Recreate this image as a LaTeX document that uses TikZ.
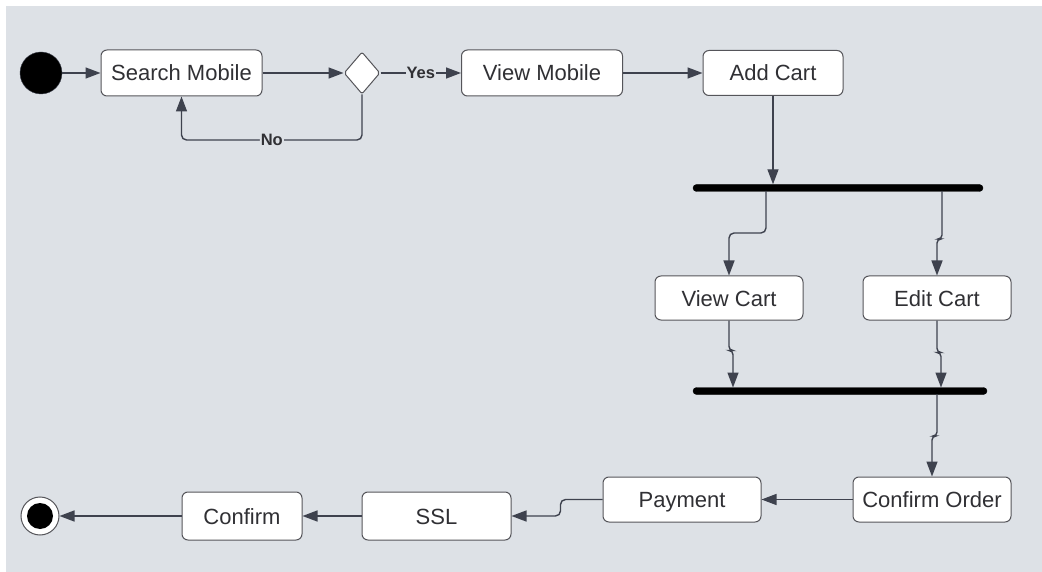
\documentclass[tikz,border=0pt]{standalone}
\usepackage{fontspec}
\setmainfont{Liberation Sans}
\usetikzlibrary{shapes.geometric,arrows.meta}
\definecolor{bgc}{RGB}{221,225,230}
\definecolor{linec}{RGB}{62,66,78}
\definecolor{textc}{RGB}{48,48,52}
\definecolor{boxc}{RGB}{85,85,90}
\tikzset{
  act/.style={draw=boxc, line width=1pt, fill=white, rounded corners=6pt, inner sep=0pt,
    text=textc, font=\fontsize{22}{26}\selectfont, text height=16pt, text depth=0pt},
  arr/.style={draw=linec, line width=1.4pt, -{Triangle[length=15pt,width=11pt]}},
  lbl/.style={fill=bgc, inner sep=1pt, text=textc, font=\bfseries\fontsize{16.5}{18}\selectfont},
  syncbar/.style={fill=black, draw=black, rounded corners=3.5pt, minimum height=7pt, inner sep=0pt},
}
\begin{document}
\begin{tikzpicture}[x=1pt,y=-1pt]
\useasboundingbox (0,0) rectangle (1042,572);
\fill[white] (0,0) rectangle (1042,572);
\fill[bgc] (6,6) rectangle (1042,572);

% nodes
\node[circle, fill=black, draw=linec, minimum size=42pt, inner sep=0pt] (start) at (41,73) {};
\node[act, minimum width=161pt, minimum height=46pt] (search) at (181.5,73) {Search Mobile};
\node[diamond, draw=boxc, fill=white, line width=1pt, minimum width=36pt, minimum height=42pt, inner sep=0pt, rounded corners=2pt] (dec) at (362,73) {};
\node[act, minimum width=161pt, minimum height=46pt] (viewm) at (542,73) {View Mobile};
\node[act, minimum width=140pt, minimum height=45pt] (add) at (773,73) {Add Cart};
\node[syncbar, minimum width=290pt] (bar1) at (838,188) {};
\node[act, minimum width=148pt, minimum height=44pt] (vcart) at (729,298) {View Cart};
\node[act, minimum width=148pt, minimum height=44pt] (ecart) at (937,298) {Edit Cart};
\node[syncbar, minimum width=294pt] (bar2) at (840,391) {};
\node[act, minimum width=158pt, minimum height=45pt] (corder) at (932,499.5) {Confirm Order};
\node[act, minimum width=158pt, minimum height=45pt] (pay) at (682,499.5) {Payment};
\node[act, minimum width=149pt, minimum height=48pt] (ssl) at (436.5,516) {SSL};
\node[act, minimum width=120pt, minimum height=48pt] (confirm) at (242,516) {Confirm};
\node[circle, fill=white, draw=boxc, line width=1pt, minimum size=38pt, inner sep=0pt] (end) at (40,516) {};
\node[circle, fill=black, minimum size=26pt, inner sep=0pt] (endin) at (end.center) {};

% helper coordinates on the bars
\coordinate (noc) at (181.5,140);
\coordinate (b1a) at (766,191);
\coordinate (b1b) at (942,191);
\coordinate (b2a) at (733,387.5);
\coordinate (b2b) at (941,387.5);
\coordinate (b2c) at (937,394);

% connectors
\draw[arr] (start) -- (search);
\draw[arr] (search) -- (dec);
\draw[arr] (dec) -- node[lbl]{Yes} (viewm);
\draw[arr, rounded corners=5pt] (dec.south) |- node[lbl, pos=0.75]{No} (noc) -- (search.south);
\draw[arr] (viewm) -- (add);
\draw[arr] (add.south) -- (add.south |- bar1.north);
\draw[arr, rounded corners=5pt] (b1a) -- ++(0,42) -| (vcart.north);
\draw[arr, rounded corners=4pt] (b1b) -- ++(0,48) -| (ecart.north);
\draw[arr, rounded corners=4pt] (vcart.south) -- ++(0,30) -| (b2a);
\draw[arr, rounded corners=4pt] (ecart.south) -- ++(0,32) -| (b2b);
\draw[arr, rounded corners=4pt] (b2c) -- ++(0,42) -| (corder.north);
\draw[arr] (corder) -- (pay);
\draw[arr, rounded corners=5pt] (pay.west) -- ++(-42,0) |- (ssl.east);
\draw[arr] (ssl) -- (confirm);
\draw[arr] (confirm) -- (end);
\end{tikzpicture}
\end{document}
